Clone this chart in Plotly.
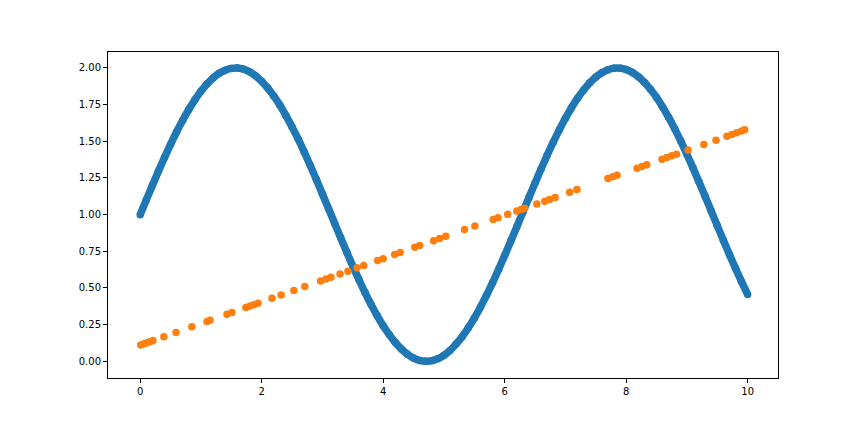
import plotly.graph_objects as go

# Blue series
blue_x = [round(i * 0.1, 1) for i in range(101)]
blue_y = [1.000, 1.100, 1.199, 1.296, 1.389, 1.479, 1.565, 1.644, 1.717, 1.783,
          1.841, 1.891, 1.932, 1.964, 1.985, 1.997, 2.000, 1.992, 1.974, 1.946,
          1.909, 1.863, 1.808, 1.746, 1.675, 1.598, 1.516, 1.427, 1.335, 1.239,
          1.141, 1.042, 0.942, 0.842, 0.745, 0.649, 0.558, 0.470, 0.388, 0.312,
          0.243, 0.182, 0.128, 0.084, 0.048, 0.022, 0.006, 0.000, 0.004, 0.018,
          0.041, 0.074, 0.117, 0.168, 0.227, 0.294, 0.369, 0.449, 0.535, 0.626,
          0.721, 0.818, 0.917, 1.017, 1.117, 1.215, 1.312, 1.405, 1.494, 1.578,
          1.657, 1.729, 1.794, 1.850, 1.899, 1.938, 1.968, 1.988, 1.999, 1.999,
          1.989, 1.970, 1.941, 1.902, 1.855, 1.799, 1.734, 1.663, 1.585, 1.501,
          1.412, 1.319, 1.223, 1.125, 1.025, 0.925, 0.826, 0.728, 0.634, 0.543,
          0.456]

# Orange series
orange_x = [0.01, 0.06, 0.11, 0.16, 0.21, 0.39, 0.59, 0.85, 1.10, 1.15,
            1.43, 1.51, 1.74, 1.81, 1.87, 1.94, 2.17, 2.32, 2.53, 2.71,
            2.97, 3.06, 3.14, 3.29, 3.42, 3.57, 3.68, 3.91, 4.00, 4.19,
            4.28, 4.52, 4.60, 4.83, 4.93, 5.03, 5.34, 5.51, 5.81, 5.89,
            6.05, 6.20, 6.27, 6.33, 6.53, 6.66, 6.74, 6.83, 7.07, 7.19,
            7.70, 7.78, 7.85, 8.18, 8.26, 8.34, 8.59, 8.67, 8.75, 8.83,
            9.02, 9.28, 9.48, 9.66, 9.74, 9.82, 9.90, 9.95]
orange_y = [0.111, 0.119, 0.126, 0.134, 0.141, 0.168, 0.197, 0.235, 0.272, 0.280,
            0.321, 0.333, 0.367, 0.377, 0.386, 0.396, 0.430, 0.452, 0.483, 0.510,
            0.548, 0.561, 0.573, 0.595, 0.614, 0.637, 0.653, 0.687, 0.700, 0.728,
            0.741, 0.777, 0.789, 0.822, 0.837, 0.852, 0.898, 0.923, 0.967, 0.979,
            1.002, 1.025, 1.035, 1.044, 1.073, 1.092, 1.104, 1.117, 1.153, 1.171,
            1.246, 1.258, 1.268, 1.317, 1.328, 1.340, 1.377, 1.389, 1.401, 1.412,
            1.440, 1.479, 1.508, 1.535, 1.547, 1.558, 1.570, 1.578]

x_ticks = [0, 2, 4, 6, 8, 10]
y_ticks = [0.00, 0.25, 0.50, 0.75, 1.00, 1.25, 1.50, 1.75, 2.00]

fig = go.Figure()
fig.add_trace(go.Scatter(
    x=blue_x, y=blue_y, mode="lines+markers",
    line=dict(color="#1f77b4", width=7.5, shape="spline", smoothing=1.0),
    marker=dict(color="#1f77b4", size=7.5, line=dict(width=0)),
    showlegend=False, hoverinfo="skip"))
fig.add_trace(go.Scatter(
    x=orange_x, y=orange_y, mode="markers",
    marker=dict(color="#ff7f0e", size=7.5, line=dict(width=0)),
    showlegend=False, hoverinfo="skip"))

axis_common = dict(showline=True, linecolor="black", linewidth=1, mirror=True,
                   ticks="outside", ticklen=4, tickcolor="black", tickwidth=1,
                   showgrid=False, zeroline=False,
                   tickfont=dict(family="DejaVu Sans", size=10, color="black"))

fig.update_layout(
    width=864, height=432,
    margin=dict(l=100, r=94, t=44, b=62),
    paper_bgcolor="white", plot_bgcolor="white",
    xaxis=dict(range=[-0.53, 10.5], tickvals=x_ticks,
               ticktext=[str(v) for v in x_ticks], **axis_common),
    yaxis=dict(range=[-0.114, 2.109], tickvals=y_ticks,
               ticktext=[f"{v:.2f}" for v in y_ticks], **axis_common),
)

fig.write_html("out.html")
